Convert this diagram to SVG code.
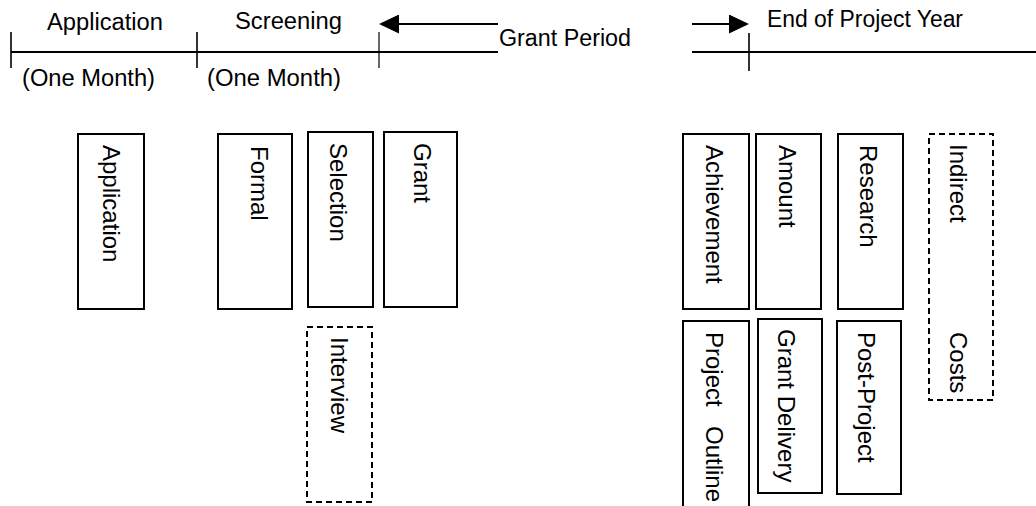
<svg xmlns="http://www.w3.org/2000/svg" width="1036" height="506" viewBox="0 0 1036 506">
  <defs>
    <marker id="head" markerUnits="userSpaceOnUse" viewBox="0 0 20 19" refX="10" refY="9.5" markerWidth="20" markerHeight="19" orient="auto">
      <path d="M0,0 L20,9.5 L0,19 Z" fill="#000"/>
    </marker>
    <style>
      .lbl { font-family: "Liberation Sans", Arial, sans-serif; font-size: 23.5px; fill: #000; }
      .vt { font-family: "Liberation Sans", Arial, sans-serif; font-size: 24px; fill: #000; }
      .box { fill: #fff; stroke: #000; stroke-width: 2; }
      .dash { fill: #fff; stroke: #000; stroke-width: 2; stroke-dasharray: 6 4; }
      .tl { stroke: #000; stroke-width: 2; fill: none; }
      .tick { stroke: #000; stroke-width: 1.6; fill: none; }
    </style>
  </defs>
  <rect width="1036" height="506" fill="#fff"/>

  <g id="timeline">
    <line class="tl" x1="11" y1="52" x2="498" y2="52"/>
    <line class="tl" x1="692" y1="52" x2="1036" y2="52"/>
    <line class="tick" x1="11" y1="32" x2="11" y2="68"/>
    <line class="tick" x1="197" y1="32" x2="197" y2="68"/>
    <line class="tick" x1="379" y1="32" x2="379" y2="68" style="stroke-width:1.2"/>
    <line class="tick" x1="749" y1="33" x2="749" y2="71"/>
    <text class="lbl" x="47" y="30" textLength="116" lengthAdjust="spacingAndGlyphs">Application</text>
    <text class="lbl" x="235" y="29" textLength="107" lengthAdjust="spacingAndGlyphs">Screening</text>
    <text class="lbl" x="22" y="86" textLength="133" lengthAdjust="spacingAndGlyphs">(One Month)</text>
    <text class="lbl" x="207" y="86" textLength="134" lengthAdjust="spacingAndGlyphs">(One Month)</text>
    <text class="lbl" x="499" y="46" textLength="132" lengthAdjust="spacingAndGlyphs">Grant Period</text>
    <text class="lbl" x="767" y="27" textLength="196" lengthAdjust="spacingAndGlyphs">End of Project Year</text>
  </g>

  <g id="connectors">
    <line class="tl" x1="498" y1="24" x2="389" y2="24" marker-end="url(#head)"/>
    <line class="tl" x1="692" y1="24" x2="739" y2="24" marker-end="url(#head)"/>
  </g>

  <g id="node-application">
    <rect class="box" x="78" y="134" width="66" height="175"/>
    <text class="vt" transform="translate(103,145) rotate(90)">Application</text>
  </g>
  <g id="node-formal">
    <rect class="box" x="218" y="134" width="74" height="175"/>
    <text class="vt" transform="translate(251,146) rotate(90)">Formal</text>
  </g>
  <g id="node-selection">
    <rect class="box" x="308" y="132" width="65" height="175"/>
    <text class="vt" transform="translate(330,143) rotate(90)">Selection</text>
  </g>
  <g id="node-grant">
    <rect class="box" x="384" y="132" width="73" height="175"/>
    <text class="vt" transform="translate(414,143) rotate(90)">Grant</text>
  </g>
  <g id="node-interview">
    <rect class="dash" x="307" y="327" width="65" height="175"/>
    <text class="vt" transform="translate(331,337) rotate(90)">Interview</text>
  </g>
  <g id="node-achievement">
    <rect class="box" x="683" y="134" width="66" height="175"/>
    <text class="vt" transform="translate(706,145) rotate(90)">Achievement</text>
  </g>
  <g id="node-amount">
    <rect class="box" x="756" y="134" width="65" height="175"/>
    <text class="vt" transform="translate(779,145) rotate(90)">Amount</text>
  </g>
  <g id="node-research">
    <rect class="box" x="838" y="134" width="65" height="175"/>
    <text class="vt" transform="translate(860,145) rotate(90)">Research</text>
  </g>
  <g id="node-indirect-costs">
    <rect class="dash" x="929" y="134" width="64" height="266"/>
    <text class="vt" transform="translate(950,144) rotate(90)">Indirect</text>
    <text class="vt" transform="translate(950,332) rotate(90)">Costs</text>
  </g>
  <g id="node-project-outline">
    <rect class="box" x="683" y="321" width="66" height="200"/>
    <text class="vt" transform="translate(706,332) rotate(90)">Project<tspan x="94">Outline</tspan></text>
  </g>
  <g id="node-grant-delivery">
    <rect class="box" x="758" y="319" width="64" height="174"/>
    <text class="vt" transform="translate(778,329) rotate(90)">Grant Delivery</text>
  </g>
  <g id="node-post-project">
    <rect class="box" x="837" y="321" width="64" height="173"/>
    <text class="vt" transform="translate(858,332) rotate(90)">Post-Project</text>
  </g>
</svg>
